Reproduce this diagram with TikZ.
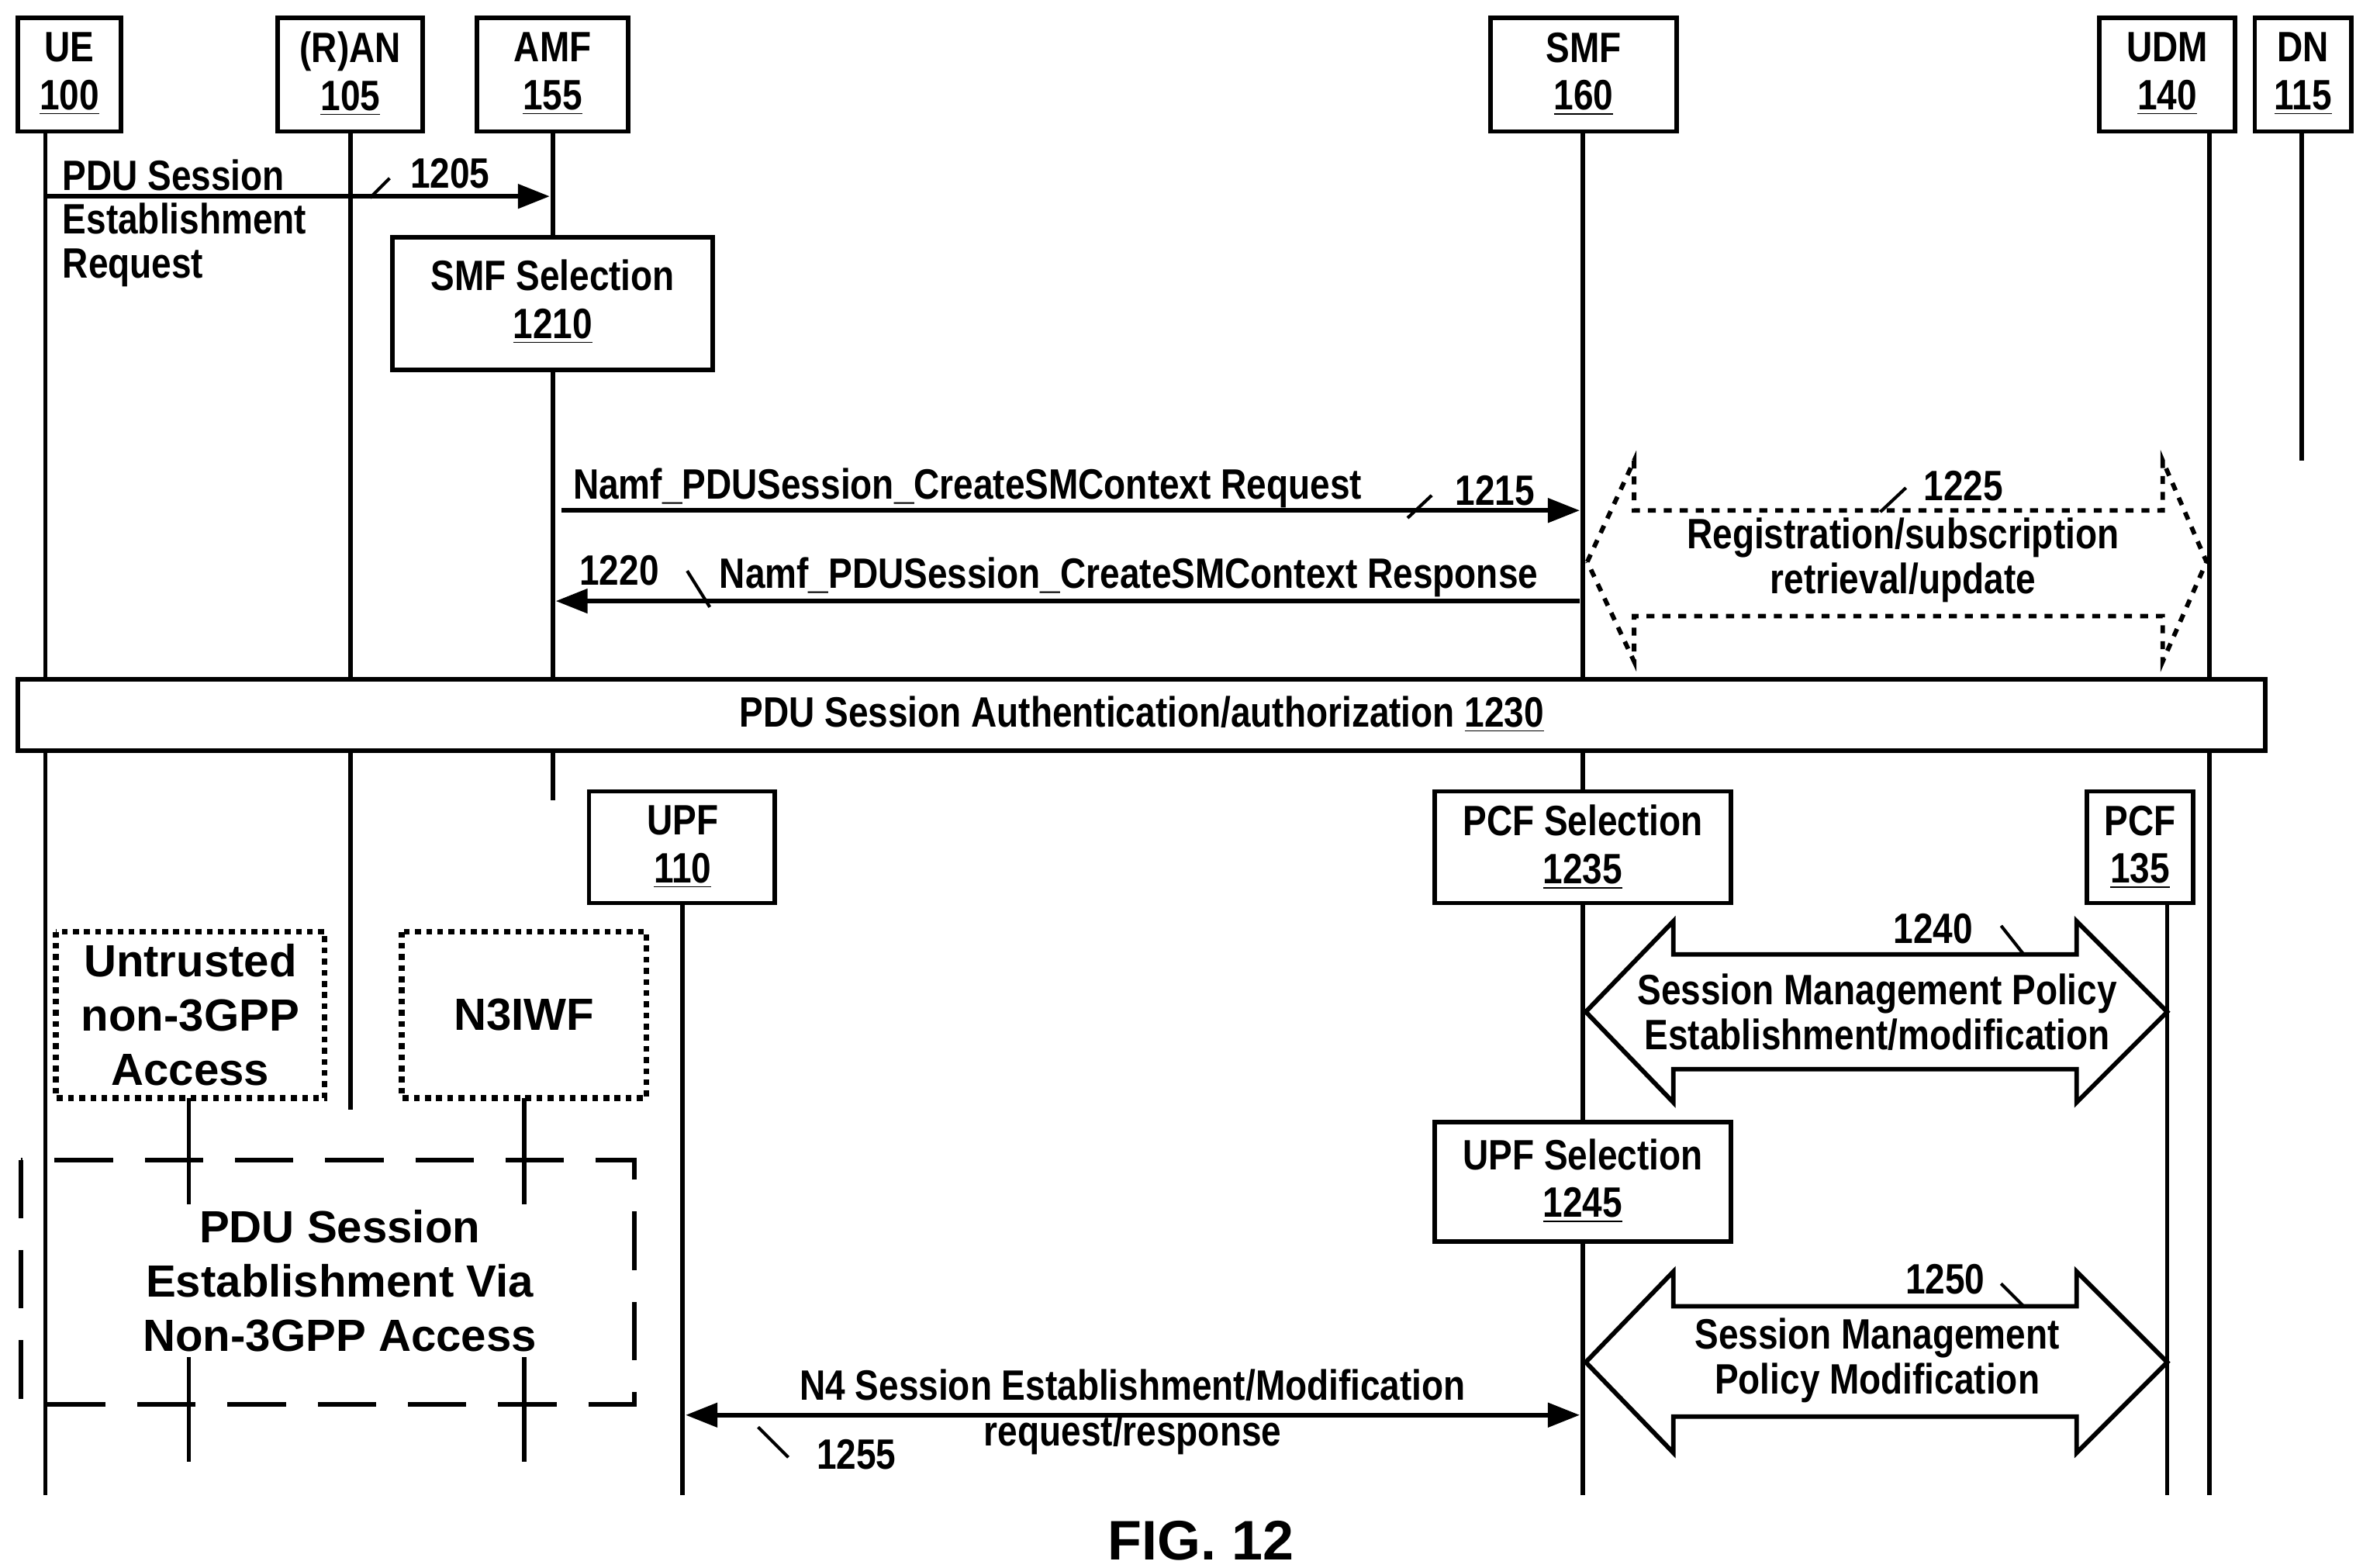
\documentclass[tikz,border=0pt]{standalone}
\usepackage{fontspec}
\setmainfont{Liberation Sans}[FakeStretch=0.84]
\newfontfamily\wideff{Liberation Sans}
\usetikzlibrary{arrows.meta}
\begin{document}
\begin{tikzpicture}[x=0.02cm,y=-0.02cm,line width=1.7pt,
  txt/.style={font=\bfseries\fontsize{16}{17}\selectfont,inner sep=0pt,align=center},
  big/.style={font=\wideff\bfseries\fontsize{17}{20.5}\selectfont,inner sep=0pt,align=center},
  life/.style={line width=1.7pt},
  arr/.style={-{Triangle[length=12pt,width=9pt]}},
  darr/.style={{Triangle[length=12pt,width=9pt]}-{Triangle[length=12pt,width=9pt]}},
  tick/.style={line width=1.2pt}]
\useasboundingbox (0,0) rectangle (1560,1038);
% headers
\def\hdr#1#2#3#4#5{\draw (#2,12) rectangle (#3,87); \node[txt] (#1) at ({(#2+#3)/2},49) {#4\\[1pt]\underline{#5}};}
\hdr{ue}{12}{80}{UE}{100}
\hdr{ran}{184}{280}{(R)AN}{105}
\hdr{amf}{316}{416}{AMF}{155}
\hdr{smf}{987}{1110}{SMF}{160}
\hdr{udm}{1390}{1480}{UDM}{140}
\hdr{dn}{1493}{1557}{DN}{115}
% lifelines
\coordinate (ue0) at (30,87); \coordinate (ue1) at (30,990);
\coordinate (ran0) at (232,87); \coordinate (ran1) at (232,735);
\coordinate (amf0) at (366,87); \coordinate (amf1) at (366,530);
\coordinate (smf0) at (1048,87); \coordinate (smf1) at (1048,990);
\coordinate (udm0) at (1463,87); \coordinate (udm1) at (1463,990);
\coordinate (dn0) at (1524,87); \coordinate (dn1) at (1524,305);
\foreach \a in {ue,ran,amf,smf,udm,dn} \draw[life] (\a0) -- (\a1);
% 1205
\coordinate (m1a) at (30,130); \coordinate (m1b) at (364,130);
\draw[arr] (m1a) -- (m1b);
\node[txt,anchor=north west,align=left] (l1205) at (40,104) {PDU Session\\[-0.5pt]Establishment\\[-0.5pt]Request};
\node[txt] (n1205) at (298,115) {1205};
\draw[tick] (245,131) -- (258,118);
% SMF selection
\draw[fill=white] (260,157) rectangle (472,245);
\node[txt] (smfsel) at (366,200) {SMF Selection\\[1pt]\underline{1210}};
% 1215
\coordinate (m2a) at (372,338); \coordinate (m2b) at (1046,338);
\draw[arr] (m2a) -- (m2b);
\node[txt,anchor=south west] (l1215) at (378,338) {Namf\_PDUSession\_CreateSMContext Request};
\node[txt] (n1215) at (990,325) {1215};
\draw[tick] (932,343) -- (948,328);
% 1220
\coordinate (m3a) at (1046,398); \coordinate (m3b) at (368,398);
\draw[arr] (m3a) -- (m3b);
\node[txt,anchor=south west] (l1220) at (475,397) {Namf\_PDUSession\_CreateSMContext Response};
\node[txt] (n1220) at (410,378) {1220};
\draw[tick] (455,378) -- (470,402);
% 1225 dashed block arrow
\draw[dashed,line width=1.7pt,fill=white] (1051,372) -- (1082,305) -- (1082,338) -- (1432,338) -- (1432,305) -- (1461,372) -- (1432,438) -- (1432,408) -- (1082,408) -- (1082,438) -- cycle;
\node[txt] (l1225) at (1260,371) {Registration/subscription\\retrieval/update};
\node[txt] (n1225) at (1300,322) {1225};
\draw[tick] (1245,339) -- (1262,323);
% auth box
\draw[fill=white] (12,450) rectangle (1500,497);
\node[txt] (auth) at (756,473) {PDU Session Authentication/authorization \underline{1230}};
% second-row boxes
\coordinate (upf0) at (452,598); \coordinate (upf1) at (452,990);
\coordinate (pcf0) at (1435,598); \coordinate (pcf1) at (1435,990);
\draw[life] (upf0) -- (upf1); \draw[life] (pcf0) -- (pcf1);
\draw[fill=white] (390,524) rectangle (513,598);
\node[txt] (upf) at (452,561) {UPF\\[1pt]\underline{110}};
\draw[fill=white] (950,524) rectangle (1146,598);
\node[txt] (pcfsel) at (1048,561) {PCF Selection\\[1pt]\underline{1235}};
\draw[fill=white] (1382,524) rectangle (1452,598);
\node[txt] (pcf) at (1417,561) {PCF\\[1pt]\underline{135}};
% untrusted / n3iwf
\draw[dotted,line width=2.2pt] (37,617) rectangle (215,727);
\node[big] (untr) at (126,672) {Untrusted\\non-3GPP\\Access};
\draw[dotted,line width=2.2pt] (266,617) rectangle (428,727);
\node[big] (n3iwf) at (347,672) {N3IWF};
\coordinate (un0) at (125,727); \coordinate (un1) at (125,968);
\coordinate (n30) at (347,727); \coordinate (n31) at (347,968);
\draw[life] (un0) -- (un1); \draw[life] (n30) -- (n31);
% big dashed box
\draw[dash pattern=on 22pt off 12pt,line width=1.7pt] (14,768) rectangle (420,930);
\node[big,fill=white,inner sep=2pt] (pduvia) at (225,848) {PDU Session\\Establishment Via\\Non-3GPP Access};
% 1240
\draw[fill=white] (1050,670) -- (1108,610) -- (1108,632) -- (1375,632) -- (1375,610) -- (1435,670) -- (1375,730) -- (1375,708) -- (1108,708) -- (1108,730) -- cycle;
\node[txt] (l1240) at (1243,670) {Session Management Policy\\Establishment/modification};
\node[txt] (n1240) at (1280,615) {1240};
\draw[tick] (1325,613) -- (1340,632);
% UPF selection
\draw[fill=white] (950,743) rectangle (1146,822);
\node[txt] (upfsel) at (1048,782) {UPF Selection\\[1pt]\underline{1245}};
% 1250
\draw[fill=white] (1050,902) -- (1108,842) -- (1108,865) -- (1375,865) -- (1375,842) -- (1435,902) -- (1375,962) -- (1375,938) -- (1108,938) -- (1108,962) -- cycle;
\node[txt] (l1250) at (1243,901) {Session Management\\Policy Modification};
\node[txt] (n1250) at (1288,847) {1250};
\draw[tick] (1325,850) -- (1340,865);
% 1255
\coordinate (m4a) at (454,937); \coordinate (m4b) at (1046,937);
\draw[darr] (m4a) -- (m4b);
\node[txt] (l1255) at (750,935) {N4 Session Establishment/Modification\\request/response};
\node[txt] (n1255) at (567,963) {1255};
\draw[tick] (502,945) -- (522,965);
% fig
\node[font=\wideff\bfseries\fontsize{21}{24}\selectfont] (fig) at (795,1020) {FIG. 12};
\end{tikzpicture}
\end{document}
